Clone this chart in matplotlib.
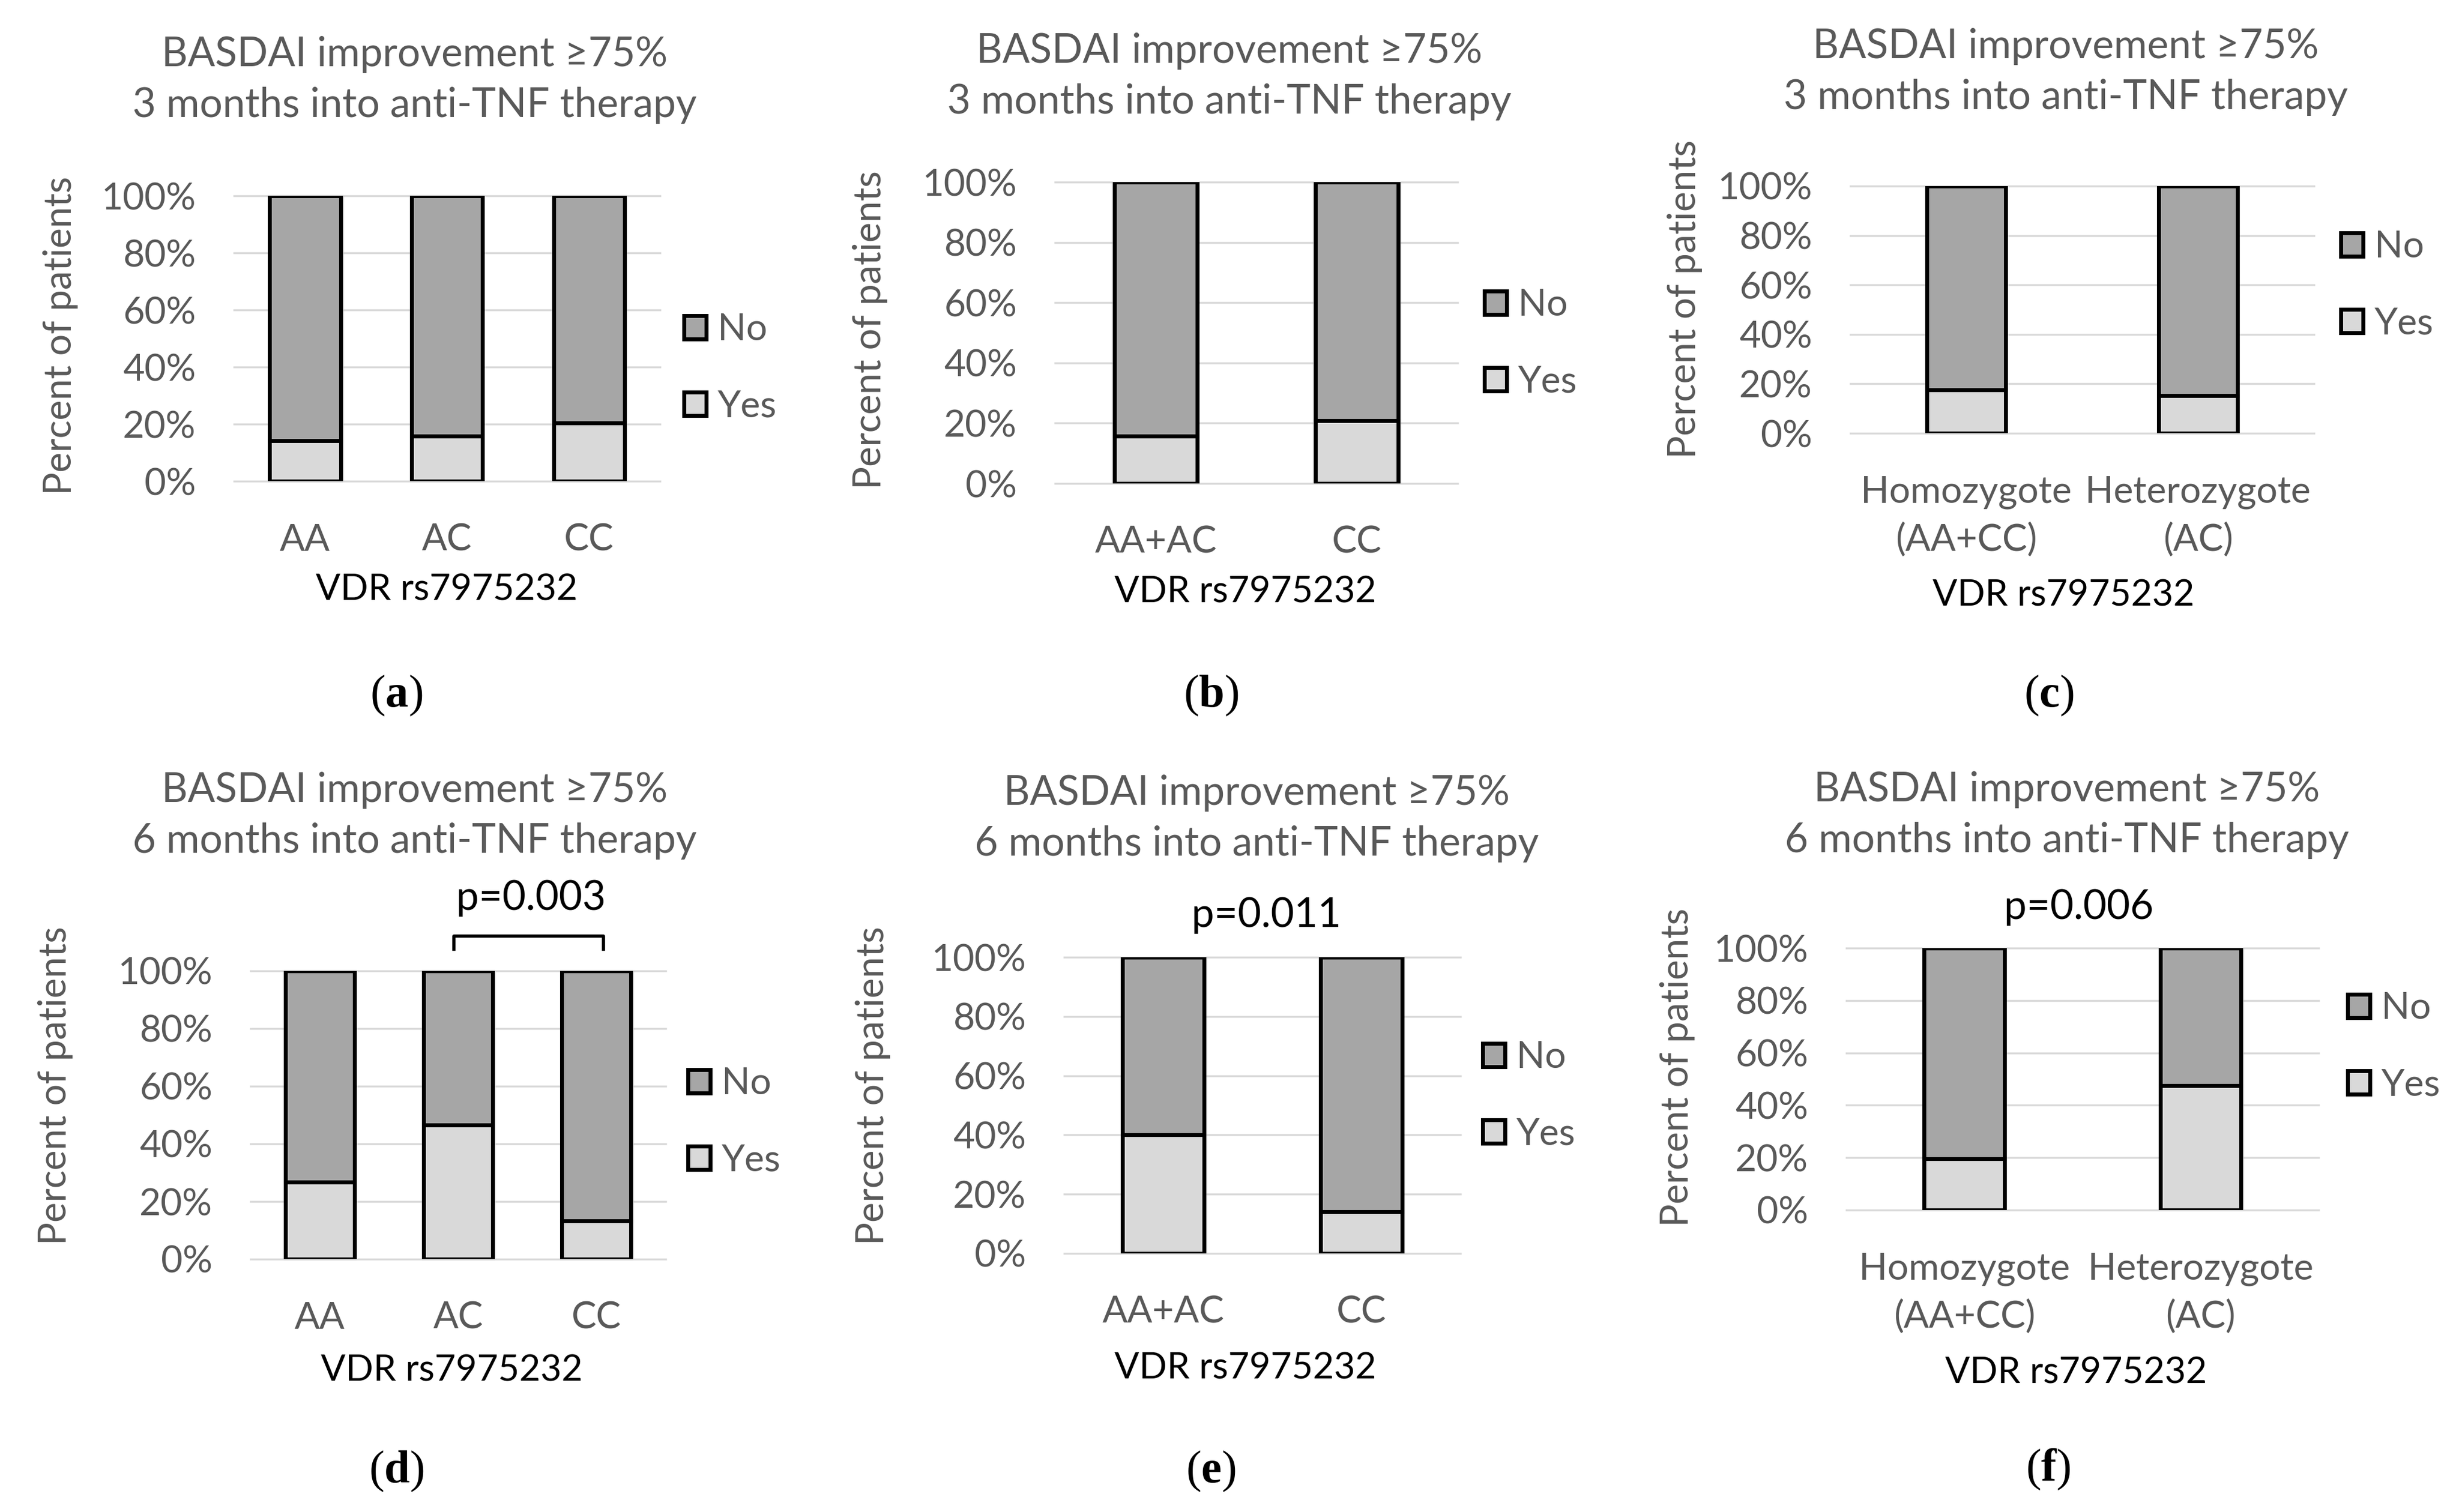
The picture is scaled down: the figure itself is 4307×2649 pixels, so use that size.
import matplotlib.pyplot as plt
from matplotlib.patches import Patch
from matplotlib.ticker import FuncFormatter

plt.rcParams['font.family'] = ['Lato', 'DejaVu Sans']
plt.rcParams['mathtext.fontset'] = 'custom'
plt.rcParams['mathtext.rm'] = 'Liberation Serif'
plt.rcParams['mathtext.bf'] = 'Liberation Serif:bold'

# data (percent of patients with BASDAI improvement >=75%)
cats_3 = ['AA', 'AC', 'CC']
cats_2 = ['AA+AC', 'CC']
cats_zyg = ['Homozygote\n(AA+CC)', 'Heterozygote\n(AC)']

yes_a = [14.3, 15.9, 20.4]
yes_b = [15.8, 20.8]
yes_c = [17.6, 15.3]
yes_d = [26.7, 46.5, 13.3]
yes_e = [40.0, 14.1]
yes_f = [19.7, 47.5]

title_3m = 'BASDAI improvement ≥75%\n3 months into anti-TNF therapy'
title_6m = 'BASDAI improvement ≥75%\n6 months into anti-TNF therapy'
pvals = {'d': 'p=0.003', 'e': 'p=0.011', 'f': 'p=0.006'}
bracket_d = (0.97, 2.05)   # bracket over AC vs CC in panel (d)

W, H = 4307, 2649
GRAY = '#595959'
NO_COL = '#a6a6a6'
YES_COL = '#d9d9d9'

fig = plt.figure(figsize=(W / 100, H / 100), dpi=100)


def fx(x):
    return x / W


def fy(y):
    return 1 - y / H


# pixel layout: axes box (left, right, top, bottom), title, ylabel, xlabel, legend, tag
layout = {
    'a': dict(box=(410, 1156, 343, 843), title=(726, 140), ylab=(106, 588), xlab=(782, 1033),
              leg=(1198, 645), tag=(694, 1219), bw=0.5),
    'b': dict(box=(1848, 2553, 319, 847), title=(2153, 134), ylab=(1524, 578), xlab=(2181, 1038),
              leg=(2600, 602), tag=(2121, 1219), bw=0.41),
    'c': dict(box=(3241, 4053, 326, 759), title=(3618, 126), ylab=(2951, 524), xlab=(3614, 1044),
              leg=(4100, 500), tag=(3589, 1219), bw=0.34),
    'd': dict(box=(439, 1166, 1701, 2206), title=(726, 1429), ylab=(97, 1902), xlab=(791, 2402),
              leg=(1205, 1966), tag=(694, 2578), bw=0.5, p=(930, 1574)),
    'e': dict(box=(1864, 2558, 1677, 2196), title=(2201, 1434), ylab=(1529, 1902), xlab=(2181, 2397),
              leg=(2597, 1920), tag=(2121, 2578), bw=0.41, p=(2218, 1603)),
    'f': dict(box=(3234, 4061, 1661, 2120), title=(3620, 1428), ylab=(2938, 1870), xlab=(3636, 2406),
              leg=(4112, 1834), tag=(3587, 2574), bw=0.34, p=(3641, 1590)),
}

panels = [
    ('a', cats_3, yes_a, title_3m),
    ('b', cats_2, yes_b, title_3m),
    ('c', cats_zyg, yes_c, title_3m),
    ('d', cats_3, yes_d, title_6m),
    ('e', cats_2, yes_e, title_6m),
    ('f', cats_zyg, yes_f, title_6m),
]

FS = 47

for key, cats, yes, title in panels:
    L = layout[key]
    l, r, t, b = L['box']
    ax = fig.add_axes([fx(l), fy(b), (r - l) / W, (b - t) / H])
    x = list(range(len(cats)))
    no = [100 - v for v in yes]
    ax.bar(x, yes, L['bw'], color=YES_COL, edgecolor='black', linewidth=5, zorder=3)
    ax.bar(x, no, L['bw'], bottom=yes, color=NO_COL, edgecolor='black', linewidth=5, zorder=3)
    ax.set_xlim(-0.5, len(cats) - 0.5)
    ax.set_ylim(0, 100)
    ax.set_yticks([0, 20, 40, 60, 80, 100])
    ax.yaxis.set_major_formatter(FuncFormatter(lambda v, p: f'{v:.0f}%'))
    ax.set_xticks(x)
    ax.set_xticklabels(cats, linespacing=1.45)
    ax.grid(axis='y', color='#d9d9d9', linewidth=2.5, zorder=0)
    for gl in ax.get_ygridlines():
        gl.set_clip_on(False)
    for s in ax.spines.values():
        s.set_visible(False)
    ax.tick_params(axis='both', length=0, colors=GRAY, labelsize=FS)
    ax.tick_params(axis='y', pad=48)
    ax.tick_params(axis='x', pad=53)

    fig.text(fx(L['title'][0]), fy(L['title'][1]), title, ha='center', va='center',
             fontsize=51, color=GRAY, linespacing=1.45)
    fig.text(fx(L['ylab'][0]), fy(L['ylab'][1]), 'Percent of patients', rotation=90,
             ha='center', va='center', fontsize=48, color=GRAY)
    fig.text(fx(L['xlab'][0]), fy(L['xlab'][1]), 'VDR rs7975232', ha='center', va='center',
             fontsize=46, color='black')
    fig.text(fx(L['tag'][0]), fy(L['tag'][1]), r'$\mathrm{(}\mathbf{' + key + r'}\mathrm{)}$',
             ha='center', va='center', fontsize=58, color='black')

    handles = [Patch(facecolor=NO_COL, edgecolor='black', linewidth=5, label='No'),
               Patch(facecolor=YES_COL, edgecolor='black', linewidth=5, label='Yes')]
    fig.legend(handles=handles, loc='center left', bbox_to_anchor=(fx(L['leg'][0]), fy(L['leg'][1])),
               frameon=False, fontsize=FS, labelcolor=GRAY, handlelength=0.6, handleheight=0.6,
               handletextpad=0.3, labelspacing=1.15, borderpad=0, borderaxespad=0)

    if 'p' in L:
        fig.text(fx(L['p'][0]), fy(L['p'][1]), pvals[key], ha='center', va='center',
                 fontsize=51, color='black')
    if key == 'd':
        x0, x1 = bracket_d
        ax.plot([x0, x0, x1, x1], [107.5, 112, 112, 107.5], color='black', linewidth=4,
                clip_on=False)

fig.savefig('out.png', dpi=100, facecolor='white')
